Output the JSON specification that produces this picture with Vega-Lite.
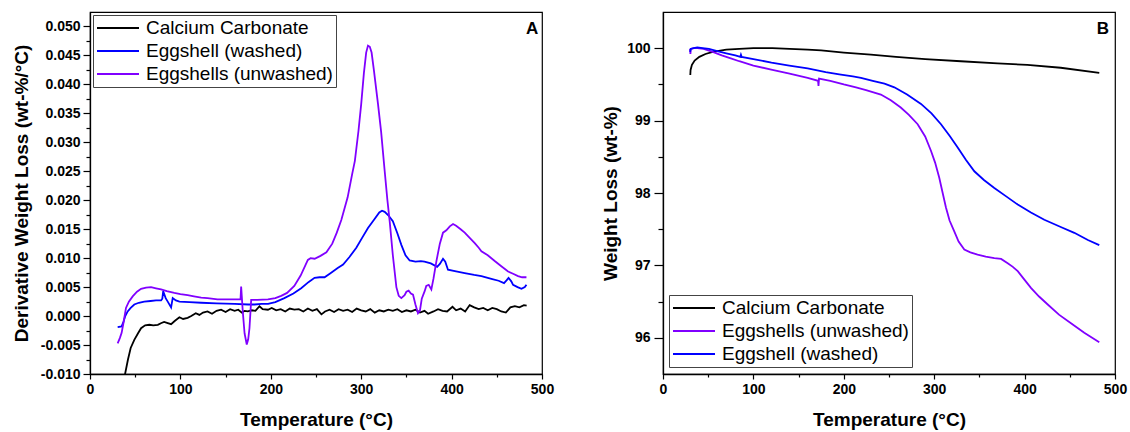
{
  "$schema": "https://vega.github.io/schema/vega-lite/v6.json",
  "padding": {"left": 11, "top": 11, "right": 0, "bottom": 0},
  "bounds": "flush",
  "spacing": 121,
  "config": {
    "font": "Liberation Sans",
    "view": {"stroke": "#000", "strokeWidth": 1.2},
    "axis": {
      "grid": false,
      "domainColor": "#000",
      "domainWidth": 1.3,
      "tickColor": "#000",
      "tickWidth": 1.2,
      "labelFont": "Liberation Sans",
      "labelFontWeight": "bold",
      "labelFontSize": 14,
      "labelColor": "#000",
      "labelOverlap": false,
      "labelFlush": false,
      "titleFont": "Liberation Sans",
      "titleFontSize": 19,
      "titleFontWeight": "bold",
      "titleColor": "#000"
    },
    "legend": {
      "labelFont": "Liberation Sans",
      "labelFontSize": 19,
      "labelColor": "#000",
      "labelLimit": 400,
      "symbolType": "stroke",
      "symbolSize": 1764,
      "symbolStrokeWidth": 2,
      "labelOffset": 6,
      "padding": 3,
      "rowPadding": 3,
      "clipHeight": 20,
      "strokeColor": "#444",
      "fillColor": "#fff",
      "orient": "none"
    }
  },
  "datasets": {
    "dtg": [
      {"s": "Calcium Carbonate", "T": 36, "v": -0.0135},
      {"s": "Calcium Carbonate", "T": 38.8, "v": -0.010},
      {"s": "Calcium Carbonate", "T": 42, "v": -0.0075},
      {"s": "Calcium Carbonate", "T": 45, "v": -0.0055},
      {"s": "Calcium Carbonate", "T": 49, "v": -0.0041},
      {"s": "Calcium Carbonate", "T": 53, "v": -0.0030},
      {"s": "Calcium Carbonate", "T": 56.5, "v": -0.0021},
      {"s": "Calcium Carbonate", "T": 61, "v": -0.0016},
      {"s": "Calcium Carbonate", "T": 65.7, "v": -0.0015},
      {"s": "Calcium Carbonate", "T": 70, "v": -0.0016},
      {"s": "Calcium Carbonate", "T": 75, "v": -0.0015},
      {"s": "Calcium Carbonate", "T": 79, "v": -0.0012},
      {"s": "Calcium Carbonate", "T": 82, "v": -0.0010},
      {"s": "Calcium Carbonate", "T": 86, "v": -0.0012},
      {"s": "Calcium Carbonate", "T": 89.7, "v": -0.0014},
      {"s": "Calcium Carbonate", "T": 94, "v": -0.0008},
      {"s": "Calcium Carbonate", "T": 98.9, "v": -0.0002},
      {"s": "Calcium Carbonate", "T": 103, "v": -0.0005},
      {"s": "Calcium Carbonate", "T": 108, "v": -0.0003},
      {"s": "Calcium Carbonate", "T": 112, "v": 0.0000},
      {"s": "Calcium Carbonate", "T": 117, "v": 0.0005},
      {"s": "Calcium Carbonate", "T": 121, "v": 0.0002},
      {"s": "Calcium Carbonate", "T": 125, "v": 0.0006},
      {"s": "Calcium Carbonate", "T": 130, "v": 0.0008},
      {"s": "Calcium Carbonate", "T": 135, "v": 0.0004},
      {"s": "Calcium Carbonate", "T": 140, "v": 0.0009},
      {"s": "Calcium Carbonate", "T": 145, "v": 0.0011},
      {"s": "Calcium Carbonate", "T": 150, "v": 0.0007},
      {"s": "Calcium Carbonate", "T": 155, "v": 0.0012},
      {"s": "Calcium Carbonate", "T": 160, "v": 0.0009},
      {"s": "Calcium Carbonate", "T": 164, "v": 0.0011},
      {"s": "Calcium Carbonate", "T": 168, "v": 0.0006},
      {"s": "Calcium Carbonate", "T": 171, "v": 0.0009},
      {"s": "Calcium Carbonate", "T": 174.6, "v": 0.0008},
      {"s": "Calcium Carbonate", "T": 179, "v": 0.0010},
      {"s": "Calcium Carbonate", "T": 183, "v": 0.0009},
      {"s": "Calcium Carbonate", "T": 187.5, "v": 0.0017},
      {"s": "Calcium Carbonate", "T": 191, "v": 0.0012},
      {"s": "Calcium Carbonate", "T": 196.8, "v": 0.0011},
      {"s": "Calcium Carbonate", "T": 201, "v": 0.0014},
      {"s": "Calcium Carbonate", "T": 206, "v": 0.0010},
      {"s": "Calcium Carbonate", "T": 211, "v": 0.0012},
      {"s": "Calcium Carbonate", "T": 216, "v": 0.0008},
      {"s": "Calcium Carbonate", "T": 221, "v": 0.0013},
      {"s": "Calcium Carbonate", "T": 226, "v": 0.0011},
      {"s": "Calcium Carbonate", "T": 231, "v": 0.0012},
      {"s": "Calcium Carbonate", "T": 236, "v": 0.0008},
      {"s": "Calcium Carbonate", "T": 241, "v": 0.0013},
      {"s": "Calcium Carbonate", "T": 246, "v": 0.0009},
      {"s": "Calcium Carbonate", "T": 251, "v": 0.0012},
      {"s": "Calcium Carbonate", "T": 256, "v": 0.0003},
      {"s": "Calcium Carbonate", "T": 260, "v": 0.0008},
      {"s": "Calcium Carbonate", "T": 265, "v": 0.0011},
      {"s": "Calcium Carbonate", "T": 270, "v": 0.0007},
      {"s": "Calcium Carbonate", "T": 275, "v": 0.0012},
      {"s": "Calcium Carbonate", "T": 280, "v": 0.0009},
      {"s": "Calcium Carbonate", "T": 285, "v": 0.0011},
      {"s": "Calcium Carbonate", "T": 290, "v": 0.0007},
      {"s": "Calcium Carbonate", "T": 295, "v": 0.0013},
      {"s": "Calcium Carbonate", "T": 300, "v": 0.0010},
      {"s": "Calcium Carbonate", "T": 305, "v": 0.0008},
      {"s": "Calcium Carbonate", "T": 310, "v": 0.0012},
      {"s": "Calcium Carbonate", "T": 315, "v": 0.0006},
      {"s": "Calcium Carbonate", "T": 320, "v": 0.0010},
      {"s": "Calcium Carbonate", "T": 325, "v": 0.0008},
      {"s": "Calcium Carbonate", "T": 330, "v": 0.0011},
      {"s": "Calcium Carbonate", "T": 335, "v": 0.0009},
      {"s": "Calcium Carbonate", "T": 340, "v": 0.0012},
      {"s": "Calcium Carbonate", "T": 345, "v": 0.0007},
      {"s": "Calcium Carbonate", "T": 350, "v": 0.0010},
      {"s": "Calcium Carbonate", "T": 355, "v": 0.0008},
      {"s": "Calcium Carbonate", "T": 360, "v": 0.0011},
      {"s": "Calcium Carbonate", "T": 365, "v": 0.0006},
      {"s": "Calcium Carbonate", "T": 370, "v": 0.0009},
      {"s": "Calcium Carbonate", "T": 374, "v": 0.0004},
      {"s": "Calcium Carbonate", "T": 380, "v": 0.0008},
      {"s": "Calcium Carbonate", "T": 385, "v": 0.0012},
      {"s": "Calcium Carbonate", "T": 390, "v": 0.0009},
      {"s": "Calcium Carbonate", "T": 395, "v": 0.0008},
      {"s": "Calcium Carbonate", "T": 401, "v": 0.0016},
      {"s": "Calcium Carbonate", "T": 405, "v": 0.0010},
      {"s": "Calcium Carbonate", "T": 410, "v": 0.0013},
      {"s": "Calcium Carbonate", "T": 415, "v": 0.0008},
      {"s": "Calcium Carbonate", "T": 420, "v": 0.0019},
      {"s": "Calcium Carbonate", "T": 425, "v": 0.0015},
      {"s": "Calcium Carbonate", "T": 430, "v": 0.0012},
      {"s": "Calcium Carbonate", "T": 435, "v": 0.0014},
      {"s": "Calcium Carbonate", "T": 440, "v": 0.0010},
      {"s": "Calcium Carbonate", "T": 445, "v": 0.0014},
      {"s": "Calcium Carbonate", "T": 450, "v": 0.0012},
      {"s": "Calcium Carbonate", "T": 455, "v": 0.0008},
      {"s": "Calcium Carbonate", "T": 460, "v": 0.0006},
      {"s": "Calcium Carbonate", "T": 465, "v": 0.0015},
      {"s": "Calcium Carbonate", "T": 470, "v": 0.0017},
      {"s": "Calcium Carbonate", "T": 475, "v": 0.0015},
      {"s": "Calcium Carbonate", "T": 480, "v": 0.0019},
      {"s": "Calcium Carbonate", "T": 483, "v": 0.0018},
      {"s": "Eggshell (washed)", "T": 30.6, "v": -0.0019},
      {"s": "Eggshell (washed)", "T": 34.9, "v": -0.0018},
      {"s": "Eggshell (washed)", "T": 37, "v": -0.0010},
      {"s": "Eggshell (washed)", "T": 39, "v": 0.0000},
      {"s": "Eggshell (washed)", "T": 41.7, "v": 0.0008},
      {"s": "Eggshell (washed)", "T": 45, "v": 0.0014},
      {"s": "Eggshell (washed)", "T": 49, "v": 0.0020},
      {"s": "Eggshell (washed)", "T": 54, "v": 0.0023},
      {"s": "Eggshell (washed)", "T": 60, "v": 0.0025},
      {"s": "Eggshell (washed)", "T": 67, "v": 0.0026},
      {"s": "Eggshell (washed)", "T": 73, "v": 0.0027},
      {"s": "Eggshell (washed)", "T": 78.6, "v": 0.0027},
      {"s": "Eggshell (washed)", "T": 80, "v": 0.0030},
      {"s": "Eggshell (washed)", "T": 81, "v": 0.0043},
      {"s": "Eggshell (washed)", "T": 83.7, "v": 0.0031},
      {"s": "Eggshell (washed)", "T": 86, "v": 0.0025},
      {"s": "Eggshell (washed)", "T": 89.7, "v": 0.0015},
      {"s": "Eggshell (washed)", "T": 91.5, "v": 0.0031},
      {"s": "Eggshell (washed)", "T": 95, "v": 0.0027},
      {"s": "Eggshell (washed)", "T": 99, "v": 0.0025},
      {"s": "Eggshell (washed)", "T": 110, "v": 0.0024},
      {"s": "Eggshell (washed)", "T": 123, "v": 0.0023},
      {"s": "Eggshell (washed)", "T": 140, "v": 0.0022},
      {"s": "Eggshell (washed)", "T": 160, "v": 0.0021},
      {"s": "Eggshell (washed)", "T": 175, "v": 0.0020},
      {"s": "Eggshell (washed)", "T": 182, "v": 0.0020},
      {"s": "Eggshell (washed)", "T": 190, "v": 0.0021},
      {"s": "Eggshell (washed)", "T": 197, "v": 0.0021},
      {"s": "Eggshell (washed)", "T": 205, "v": 0.0024},
      {"s": "Eggshell (washed)", "T": 215, "v": 0.0031},
      {"s": "Eggshell (washed)", "T": 225, "v": 0.0039},
      {"s": "Eggshell (washed)", "T": 233.6, "v": 0.0048},
      {"s": "Eggshell (washed)", "T": 242, "v": 0.0059},
      {"s": "Eggshell (washed)", "T": 248.4, "v": 0.0066},
      {"s": "Eggshell (washed)", "T": 254, "v": 0.0067},
      {"s": "Eggshell (washed)", "T": 259.5, "v": 0.0067},
      {"s": "Eggshell (washed)", "T": 266, "v": 0.0074},
      {"s": "Eggshell (washed)", "T": 274, "v": 0.0083},
      {"s": "Eggshell (washed)", "T": 280, "v": 0.0089},
      {"s": "Eggshell (washed)", "T": 287, "v": 0.0102},
      {"s": "Eggshell (washed)", "T": 294.6, "v": 0.0118},
      {"s": "Eggshell (washed)", "T": 301, "v": 0.0135},
      {"s": "Eggshell (washed)", "T": 307.5, "v": 0.0152},
      {"s": "Eggshell (washed)", "T": 315, "v": 0.0168},
      {"s": "Eggshell (washed)", "T": 320, "v": 0.0179},
      {"s": "Eggshell (washed)", "T": 323, "v": 0.0182},
      {"s": "Eggshell (washed)", "T": 326, "v": 0.0180},
      {"s": "Eggshell (washed)", "T": 330, "v": 0.0174},
      {"s": "Eggshell (washed)", "T": 335, "v": 0.0164},
      {"s": "Eggshell (washed)", "T": 340, "v": 0.0143},
      {"s": "Eggshell (washed)", "T": 344.4, "v": 0.0123},
      {"s": "Eggshell (washed)", "T": 349, "v": 0.0105},
      {"s": "Eggshell (washed)", "T": 353.6, "v": 0.0096},
      {"s": "Eggshell (washed)", "T": 360, "v": 0.0094},
      {"s": "Eggshell (washed)", "T": 366, "v": 0.0095},
      {"s": "Eggshell (washed)", "T": 370, "v": 0.0094},
      {"s": "Eggshell (washed)", "T": 377, "v": 0.0091},
      {"s": "Eggshell (washed)", "T": 384, "v": 0.0085},
      {"s": "Eggshell (washed)", "T": 387, "v": 0.0090},
      {"s": "Eggshell (washed)", "T": 390.5, "v": 0.0099},
      {"s": "Eggshell (washed)", "T": 393, "v": 0.0094},
      {"s": "Eggshell (washed)", "T": 396, "v": 0.0080},
      {"s": "Eggshell (washed)", "T": 405, "v": 0.0077},
      {"s": "Eggshell (washed)", "T": 414.5, "v": 0.0074},
      {"s": "Eggshell (washed)", "T": 425, "v": 0.0071},
      {"s": "Eggshell (washed)", "T": 433, "v": 0.0069},
      {"s": "Eggshell (washed)", "T": 445, "v": 0.0064},
      {"s": "Eggshell (washed)", "T": 452, "v": 0.0061},
      {"s": "Eggshell (washed)", "T": 458, "v": 0.0057},
      {"s": "Eggshell (washed)", "T": 461, "v": 0.0062},
      {"s": "Eggshell (washed)", "T": 463, "v": 0.0066},
      {"s": "Eggshell (washed)", "T": 466, "v": 0.0060},
      {"s": "Eggshell (washed)", "T": 468, "v": 0.0054},
      {"s": "Eggshell (washed)", "T": 473, "v": 0.0050},
      {"s": "Eggshell (washed)", "T": 477.3, "v": 0.0047},
      {"s": "Eggshell (washed)", "T": 481, "v": 0.0050},
      {"s": "Eggshell (washed)", "T": 482.8, "v": 0.0054},
      {"s": "Eggshells (unwashed)", "T": 30.6, "v": -0.0047},
      {"s": "Eggshells (unwashed)", "T": 33, "v": -0.0038},
      {"s": "Eggshells (unwashed)", "T": 35, "v": -0.0029},
      {"s": "Eggshells (unwashed)", "T": 37, "v": -0.0012},
      {"s": "Eggshells (unwashed)", "T": 39.8, "v": 0.0014},
      {"s": "Eggshells (unwashed)", "T": 43, "v": 0.0025},
      {"s": "Eggshells (unwashed)", "T": 47.2, "v": 0.0034},
      {"s": "Eggshells (unwashed)", "T": 52, "v": 0.0042},
      {"s": "Eggshells (unwashed)", "T": 56.5, "v": 0.0047},
      {"s": "Eggshells (unwashed)", "T": 62, "v": 0.0049},
      {"s": "Eggshells (unwashed)", "T": 67.5, "v": 0.0050},
      {"s": "Eggshells (unwashed)", "T": 73, "v": 0.0048},
      {"s": "Eggshells (unwashed)", "T": 78.6, "v": 0.0046},
      {"s": "Eggshells (unwashed)", "T": 85, "v": 0.0043},
      {"s": "Eggshells (unwashed)", "T": 93.3, "v": 0.0040},
      {"s": "Eggshells (unwashed)", "T": 100, "v": 0.0038},
      {"s": "Eggshells (unwashed)", "T": 108, "v": 0.0036},
      {"s": "Eggshells (unwashed)", "T": 115, "v": 0.0034},
      {"s": "Eggshells (unwashed)", "T": 123, "v": 0.0032},
      {"s": "Eggshells (unwashed)", "T": 130, "v": 0.0031},
      {"s": "Eggshells (unwashed)", "T": 141, "v": 0.0029},
      {"s": "Eggshells (unwashed)", "T": 150, "v": 0.0029},
      {"s": "Eggshells (unwashed)", "T": 160, "v": 0.0029},
      {"s": "Eggshells (unwashed)", "T": 166.5, "v": 0.0029},
      {"s": "Eggshells (unwashed)", "T": 167.2, "v": 0.0051},
      {"s": "Eggshells (unwashed)", "T": 169, "v": 0.0008},
      {"s": "Eggshells (unwashed)", "T": 171, "v": -0.0030},
      {"s": "Eggshells (unwashed)", "T": 173.4, "v": -0.0049},
      {"s": "Eggshells (unwashed)", "T": 175, "v": -0.0040},
      {"s": "Eggshells (unwashed)", "T": 176.4, "v": -0.0021},
      {"s": "Eggshells (unwashed)", "T": 178.3, "v": 0.0028},
      {"s": "Eggshells (unwashed)", "T": 185, "v": 0.0028},
      {"s": "Eggshells (unwashed)", "T": 196.8, "v": 0.0029},
      {"s": "Eggshells (unwashed)", "T": 205, "v": 0.0031},
      {"s": "Eggshells (unwashed)", "T": 211.5, "v": 0.0035},
      {"s": "Eggshells (unwashed)", "T": 218, "v": 0.0040},
      {"s": "Eggshells (unwashed)", "T": 226, "v": 0.0052},
      {"s": "Eggshells (unwashed)", "T": 233, "v": 0.0070},
      {"s": "Eggshells (unwashed)", "T": 241, "v": 0.0097},
      {"s": "Eggshells (unwashed)", "T": 244, "v": 0.0100},
      {"s": "Eggshells (unwashed)", "T": 248.5, "v": 0.0099},
      {"s": "Eggshells (unwashed)", "T": 255, "v": 0.0104},
      {"s": "Eggshells (unwashed)", "T": 261.5, "v": 0.0110},
      {"s": "Eggshells (unwashed)", "T": 268, "v": 0.0125},
      {"s": "Eggshells (unwashed)", "T": 273, "v": 0.0144},
      {"s": "Eggshells (unwashed)", "T": 278, "v": 0.0166},
      {"s": "Eggshells (unwashed)", "T": 285, "v": 0.0205},
      {"s": "Eggshells (unwashed)", "T": 290, "v": 0.0245},
      {"s": "Eggshells (unwashed)", "T": 293, "v": 0.0268},
      {"s": "Eggshells (unwashed)", "T": 297, "v": 0.0320},
      {"s": "Eggshells (unwashed)", "T": 300, "v": 0.0366},
      {"s": "Eggshells (unwashed)", "T": 303, "v": 0.0420},
      {"s": "Eggshells (unwashed)", "T": 305.5, "v": 0.0455},
      {"s": "Eggshells (unwashed)", "T": 307.5, "v": 0.0467},
      {"s": "Eggshells (unwashed)", "T": 309.5, "v": 0.0465},
      {"s": "Eggshells (unwashed)", "T": 311.5, "v": 0.0455},
      {"s": "Eggshells (unwashed)", "T": 314, "v": 0.0425},
      {"s": "Eggshells (unwashed)", "T": 318.6, "v": 0.0366},
      {"s": "Eggshells (unwashed)", "T": 322, "v": 0.0319},
      {"s": "Eggshells (unwashed)", "T": 326, "v": 0.0250},
      {"s": "Eggshells (unwashed)", "T": 329, "v": 0.0200},
      {"s": "Eggshells (unwashed)", "T": 331.5, "v": 0.0164},
      {"s": "Eggshells (unwashed)", "T": 335, "v": 0.0105},
      {"s": "Eggshells (unwashed)", "T": 338.9, "v": 0.0050},
      {"s": "Eggshells (unwashed)", "T": 341.5, "v": 0.0035},
      {"s": "Eggshells (unwashed)", "T": 344.4, "v": 0.0031},
      {"s": "Eggshells (unwashed)", "T": 348, "v": 0.0036},
      {"s": "Eggshells (unwashed)", "T": 350, "v": 0.0042},
      {"s": "Eggshells (unwashed)", "T": 352.5, "v": 0.0044},
      {"s": "Eggshells (unwashed)", "T": 355, "v": 0.0039},
      {"s": "Eggshells (unwashed)", "T": 357.3, "v": 0.0037},
      {"s": "Eggshells (unwashed)", "T": 360, "v": 0.0020},
      {"s": "Eggshells (unwashed)", "T": 362.8, "v": 0.0005},
      {"s": "Eggshells (unwashed)", "T": 365, "v": 0.0010},
      {"s": "Eggshells (unwashed)", "T": 367, "v": 0.0030},
      {"s": "Eggshells (unwashed)", "T": 370.2, "v": 0.0043},
      {"s": "Eggshells (unwashed)", "T": 372, "v": 0.0052},
      {"s": "Eggshells (unwashed)", "T": 374.7, "v": 0.0054},
      {"s": "Eggshells (unwashed)", "T": 377.6, "v": 0.0046},
      {"s": "Eggshells (unwashed)", "T": 380, "v": 0.0065},
      {"s": "Eggshells (unwashed)", "T": 383.2, "v": 0.0095},
      {"s": "Eggshells (unwashed)", "T": 387, "v": 0.0125},
      {"s": "Eggshells (unwashed)", "T": 390.5, "v": 0.0144},
      {"s": "Eggshells (unwashed)", "T": 394.2, "v": 0.0148},
      {"s": "Eggshells (unwashed)", "T": 398, "v": 0.0155},
      {"s": "Eggshells (unwashed)", "T": 401.6, "v": 0.0159},
      {"s": "Eggshells (unwashed)", "T": 405, "v": 0.0156},
      {"s": "Eggshells (unwashed)", "T": 410, "v": 0.0150},
      {"s": "Eggshells (unwashed)", "T": 414.5, "v": 0.0144},
      {"s": "Eggshells (unwashed)", "T": 420, "v": 0.0135},
      {"s": "Eggshells (unwashed)", "T": 425.6, "v": 0.0126},
      {"s": "Eggshells (unwashed)", "T": 430, "v": 0.0118},
      {"s": "Eggshells (unwashed)", "T": 433, "v": 0.0112},
      {"s": "Eggshells (unwashed)", "T": 440, "v": 0.0105},
      {"s": "Eggshells (unwashed)", "T": 447.7, "v": 0.0095},
      {"s": "Eggshells (unwashed)", "T": 455, "v": 0.0086},
      {"s": "Eggshells (unwashed)", "T": 462.5, "v": 0.0077},
      {"s": "Eggshells (unwashed)", "T": 468, "v": 0.0073},
      {"s": "Eggshells (unwashed)", "T": 473.5, "v": 0.0069},
      {"s": "Eggshells (unwashed)", "T": 478, "v": 0.0067},
      {"s": "Eggshells (unwashed)", "T": 482.8, "v": 0.0067}
    ],
    "tga": [
      {"s": "Calcium Carbonate", "T": 30.2, "v": 99.63},
      {"s": "Calcium Carbonate", "T": 30.5, "v": 99.70},
      {"s": "Calcium Carbonate", "T": 32, "v": 99.77},
      {"s": "Calcium Carbonate", "T": 35, "v": 99.83},
      {"s": "Calcium Carbonate", "T": 40.2, "v": 99.88},
      {"s": "Calcium Carbonate", "T": 47, "v": 99.92},
      {"s": "Calcium Carbonate", "T": 55, "v": 99.95},
      {"s": "Calcium Carbonate", "T": 70, "v": 99.98},
      {"s": "Calcium Carbonate", "T": 84.4, "v": 99.99},
      {"s": "Calcium Carbonate", "T": 100, "v": 100.0},
      {"s": "Calcium Carbonate", "T": 121, "v": 100.0},
      {"s": "Calcium Carbonate", "T": 140, "v": 99.99},
      {"s": "Calcium Carbonate", "T": 160, "v": 99.98},
      {"s": "Calcium Carbonate", "T": 175, "v": 99.97},
      {"s": "Calcium Carbonate", "T": 200, "v": 99.94},
      {"s": "Calcium Carbonate", "T": 230, "v": 99.91},
      {"s": "Calcium Carbonate", "T": 257.7, "v": 99.88},
      {"s": "Calcium Carbonate", "T": 290, "v": 99.85},
      {"s": "Calcium Carbonate", "T": 329.6, "v": 99.82},
      {"s": "Calcium Carbonate", "T": 370, "v": 99.79},
      {"s": "Calcium Carbonate", "T": 403, "v": 99.77},
      {"s": "Calcium Carbonate", "T": 440, "v": 99.73},
      {"s": "Calcium Carbonate", "T": 482.6, "v": 99.66},
      {"s": "Eggshells (unwashed)", "T": 30, "v": 99.99},
      {"s": "Eggshells (unwashed)", "T": 30.3, "v": 99.92},
      {"s": "Eggshells (unwashed)", "T": 30.8, "v": 99.99},
      {"s": "Eggshells (unwashed)", "T": 34, "v": 100.0},
      {"s": "Eggshells (unwashed)", "T": 37.9, "v": 100.0},
      {"s": "Eggshells (unwashed)", "T": 45, "v": 99.99},
      {"s": "Eggshells (unwashed)", "T": 55, "v": 99.95},
      {"s": "Eggshells (unwashed)", "T": 65, "v": 99.90},
      {"s": "Eggshells (unwashed)", "T": 75, "v": 99.86},
      {"s": "Eggshells (unwashed)", "T": 84.4, "v": 99.82},
      {"s": "Eggshells (unwashed)", "T": 100, "v": 99.76},
      {"s": "Eggshells (unwashed)", "T": 121, "v": 99.70},
      {"s": "Eggshells (unwashed)", "T": 140, "v": 99.65},
      {"s": "Eggshells (unwashed)", "T": 160, "v": 99.59},
      {"s": "Eggshells (unwashed)", "T": 171.5, "v": 99.55},
      {"s": "Eggshells (unwashed)", "T": 172, "v": 99.48},
      {"s": "Eggshells (unwashed)", "T": 172.6, "v": 99.58},
      {"s": "Eggshells (unwashed)", "T": 185, "v": 99.55},
      {"s": "Eggshells (unwashed)", "T": 200, "v": 99.50},
      {"s": "Eggshells (unwashed)", "T": 213.5, "v": 99.46},
      {"s": "Eggshells (unwashed)", "T": 224.6, "v": 99.42},
      {"s": "Eggshells (unwashed)", "T": 241, "v": 99.36},
      {"s": "Eggshells (unwashed)", "T": 252, "v": 99.28},
      {"s": "Eggshells (unwashed)", "T": 263, "v": 99.18},
      {"s": "Eggshells (unwashed)", "T": 272, "v": 99.08},
      {"s": "Eggshells (unwashed)", "T": 281.7, "v": 98.95},
      {"s": "Eggshells (unwashed)", "T": 290, "v": 98.78},
      {"s": "Eggshells (unwashed)", "T": 296.5, "v": 98.58},
      {"s": "Eggshells (unwashed)", "T": 301, "v": 98.42},
      {"s": "Eggshells (unwashed)", "T": 305.6, "v": 98.21},
      {"s": "Eggshells (unwashed)", "T": 309, "v": 98.02},
      {"s": "Eggshells (unwashed)", "T": 313, "v": 97.80},
      {"s": "Eggshells (unwashed)", "T": 317, "v": 97.62},
      {"s": "Eggshells (unwashed)", "T": 322.2, "v": 97.47},
      {"s": "Eggshells (unwashed)", "T": 327, "v": 97.33},
      {"s": "Eggshells (unwashed)", "T": 333.3, "v": 97.22},
      {"s": "Eggshells (unwashed)", "T": 340, "v": 97.18},
      {"s": "Eggshells (unwashed)", "T": 348, "v": 97.15},
      {"s": "Eggshells (unwashed)", "T": 357, "v": 97.12},
      {"s": "Eggshells (unwashed)", "T": 366.5, "v": 97.10},
      {"s": "Eggshells (unwashed)", "T": 374, "v": 97.09},
      {"s": "Eggshells (unwashed)", "T": 381.3, "v": 97.03},
      {"s": "Eggshells (unwashed)", "T": 387, "v": 96.98},
      {"s": "Eggshells (unwashed)", "T": 392.4, "v": 96.92},
      {"s": "Eggshells (unwashed)", "T": 400, "v": 96.80},
      {"s": "Eggshells (unwashed)", "T": 407, "v": 96.69},
      {"s": "Eggshells (unwashed)", "T": 416, "v": 96.57},
      {"s": "Eggshells (unwashed)", "T": 425.6, "v": 96.46},
      {"s": "Eggshells (unwashed)", "T": 438, "v": 96.32},
      {"s": "Eggshells (unwashed)", "T": 451.3, "v": 96.20},
      {"s": "Eggshells (unwashed)", "T": 466, "v": 96.07},
      {"s": "Eggshells (unwashed)", "T": 482.6, "v": 95.94},
      {"s": "Eggshell (washed)", "T": 30, "v": 99.95},
      {"s": "Eggshell (washed)", "T": 30.5, "v": 99.99},
      {"s": "Eggshell (washed)", "T": 34, "v": 100.0},
      {"s": "Eggshell (washed)", "T": 37.9, "v": 100.01},
      {"s": "Eggshell (washed)", "T": 44, "v": 100.0},
      {"s": "Eggshell (washed)", "T": 50.8, "v": 99.99},
      {"s": "Eggshell (washed)", "T": 60, "v": 99.96},
      {"s": "Eggshell (washed)", "T": 70, "v": 99.93},
      {"s": "Eggshell (washed)", "T": 80, "v": 99.90},
      {"s": "Eggshell (washed)", "T": 85.5, "v": 99.88},
      {"s": "Eggshell (washed)", "T": 86.2, "v": 99.91},
      {"s": "Eggshell (washed)", "T": 87, "v": 99.88},
      {"s": "Eggshell (washed)", "T": 100, "v": 99.85},
      {"s": "Eggshell (washed)", "T": 120, "v": 99.80},
      {"s": "Eggshell (washed)", "T": 139.7, "v": 99.76},
      {"s": "Eggshell (washed)", "T": 160, "v": 99.72},
      {"s": "Eggshell (washed)", "T": 180, "v": 99.67},
      {"s": "Eggshell (washed)", "T": 195, "v": 99.64},
      {"s": "Eggshell (washed)", "T": 210, "v": 99.61},
      {"s": "Eggshell (washed)", "T": 219, "v": 99.59},
      {"s": "Eggshell (washed)", "T": 232, "v": 99.55},
      {"s": "Eggshell (washed)", "T": 245, "v": 99.51},
      {"s": "Eggshell (washed)", "T": 255.9, "v": 99.46},
      {"s": "Eggshell (washed)", "T": 270, "v": 99.36},
      {"s": "Eggshell (washed)", "T": 285.4, "v": 99.23},
      {"s": "Eggshell (washed)", "T": 297, "v": 99.10},
      {"s": "Eggshell (washed)", "T": 307.5, "v": 98.95},
      {"s": "Eggshell (washed)", "T": 317, "v": 98.79},
      {"s": "Eggshell (washed)", "T": 326, "v": 98.63},
      {"s": "Eggshell (washed)", "T": 335, "v": 98.46},
      {"s": "Eggshell (washed)", "T": 344.4, "v": 98.30},
      {"s": "Eggshell (washed)", "T": 355, "v": 98.18},
      {"s": "Eggshell (washed)", "T": 366.5, "v": 98.07},
      {"s": "Eggshell (washed)", "T": 380, "v": 97.95},
      {"s": "Eggshell (washed)", "T": 392.4, "v": 97.84},
      {"s": "Eggshell (washed)", "T": 407, "v": 97.73},
      {"s": "Eggshell (washed)", "T": 421.8, "v": 97.63},
      {"s": "Eggshell (washed)", "T": 440, "v": 97.53},
      {"s": "Eggshell (washed)", "T": 455, "v": 97.45},
      {"s": "Eggshell (washed)", "T": 470, "v": 97.35},
      {"s": "Eggshell (washed)", "T": 482.6, "v": 97.28}
    ]
  },
  "resolve": {"scale": {"color": "independent", "x": "independent", "y": "independent"}, "legend": {"color": "independent"}},
  "hconcat": [
    {
      "width": 452,
      "height": 362,
      "encoding": {
        "x": {
          "field": "T", "type": "quantitative",
          "scale": {"domain": [0, 500], "nice": false, "zero": false},
          "axis": {
            "title": "Temperature (°C)",
            "values": [0, 50, 100, 150, 200, 250, 300, 350, 400, 450, 500],
            "labelExpr": "datum.value % 100 === 0 ? format(datum.value, 'd') : ''",
            "tickSize": {"condition": {"test": "datum.value % 100 === 0", "value": 5}, "value": 3},
            "labelPadding": 3,
            "titlePadding": 14
          }
        },
        "y": {
          "field": "v", "type": "quantitative",
          "scale": {"domain": [-0.010, 0.0525], "nice": false, "zero": false},
          "axis": {
            "title": "Derivative Weight Loss (wt-%/°C)",
            "values": [-0.01, -0.0075, -0.005, -0.0025, 0, 0.0025, 0.005, 0.0075, 0.01, 0.0125, 0.015, 0.0175, 0.02, 0.0225, 0.025, 0.0275, 0.03, 0.0325, 0.035, 0.0375, 0.04, 0.0425, 0.045, 0.0475, 0.05],
            "labelExpr": "abs(datum.value * 200 - round(datum.value * 200)) < 0.01 ? replace(format(datum.value, '.3f'), '\u2212', '-') : ''",
            "tickSize": {"condition": {"test": "abs(datum.value * 200 - round(datum.value * 200)) < 0.01", "value": 7}, "value": 4},
            "labelPadding": 3,
            "titlePadding": 9
          }
        }
      },
      "layer": [
        {
          "data": {"name": "dtg"},
          "mark": {"type": "line", "strokeWidth": 1.8, "clip": true},
          "encoding": {
            "color": {
              "field": "s", "type": "nominal",
              "scale": {"domain": ["Calcium Carbonate", "Eggshell (washed)", "Eggshells (unwashed)"], "range": ["#000000", "#0000ff", "#8000ff"]},
              "legend": {"title": null, "orient": "none", "legendX": 3, "legendY": 3}
            }
          }
        },
        {
          "data": {"values": [{"panel": "A", "T": 496, "v": 0.0487}]},
          "mark": {"type": "text", "align": "right", "baseline": "alphabetic", "fontSize": 17, "fontWeight": "bold", "fill": "#000000", "font": "Liberation Sans"},
          "encoding": {
            "text": {"field": "panel", "type": "nominal"}
          }
        }
      ]
    },
    {
      "width": 452,
      "height": 362,
      "encoding": {
        "x": {
          "field": "T", "type": "quantitative",
          "scale": {"domain": [0, 500], "nice": false, "zero": false},
          "axis": {
            "title": "Temperature (°C)",
            "values": [0, 50, 100, 150, 200, 250, 300, 350, 400, 450, 500],
            "labelExpr": "datum.value % 100 === 0 ? format(datum.value, 'd') : ''",
            "tickSize": {"condition": {"test": "datum.value % 100 === 0", "value": 5}, "value": 3},
            "labelPadding": 3,
            "titlePadding": 14
          }
        },
        "y": {
          "field": "v", "type": "quantitative",
          "scale": {"domain": [95.5, 100.5], "nice": false, "zero": false},
          "axis": {
            "title": "Weight Loss (wt-%)",
            "values": [96, 96.5, 97, 97.5, 98, 98.5, 99, 99.5, 100],
            "labelExpr": "datum.value % 1 === 0 ? format(datum.value, 'd') : ''",
            "tickSize": {"condition": {"test": "datum.value % 1 === 0", "value": 9}, "value": 5},
            "labelPadding": 4,
            "titlePadding": 6
          }
        }
      },
      "layer": [
        {
          "data": {"name": "tga"},
          "mark": {"type": "line", "strokeWidth": 1.8, "clip": true},
          "encoding": {
            "color": {
              "field": "s", "type": "nominal",
              "scale": {"domain": ["Calcium Carbonate", "Eggshells (unwashed)", "Eggshell (washed)"], "range": ["#000000", "#8000ff", "#0000ff"]},
              "legend": {"title": null, "orient": "none", "legendX": 6, "legendY": 283}
            }
          }
        },
        {
          "data": {"values": [{"panel": "B", "T": 493.4, "v": 100.2}]},
          "mark": {"type": "text", "align": "right", "baseline": "alphabetic", "fontSize": 17, "fontWeight": "bold", "fill": "#000000", "font": "Liberation Sans"},
          "encoding": {
            "text": {"field": "panel", "type": "nominal"}
          }
        }
      ]
    }
  ]
}
